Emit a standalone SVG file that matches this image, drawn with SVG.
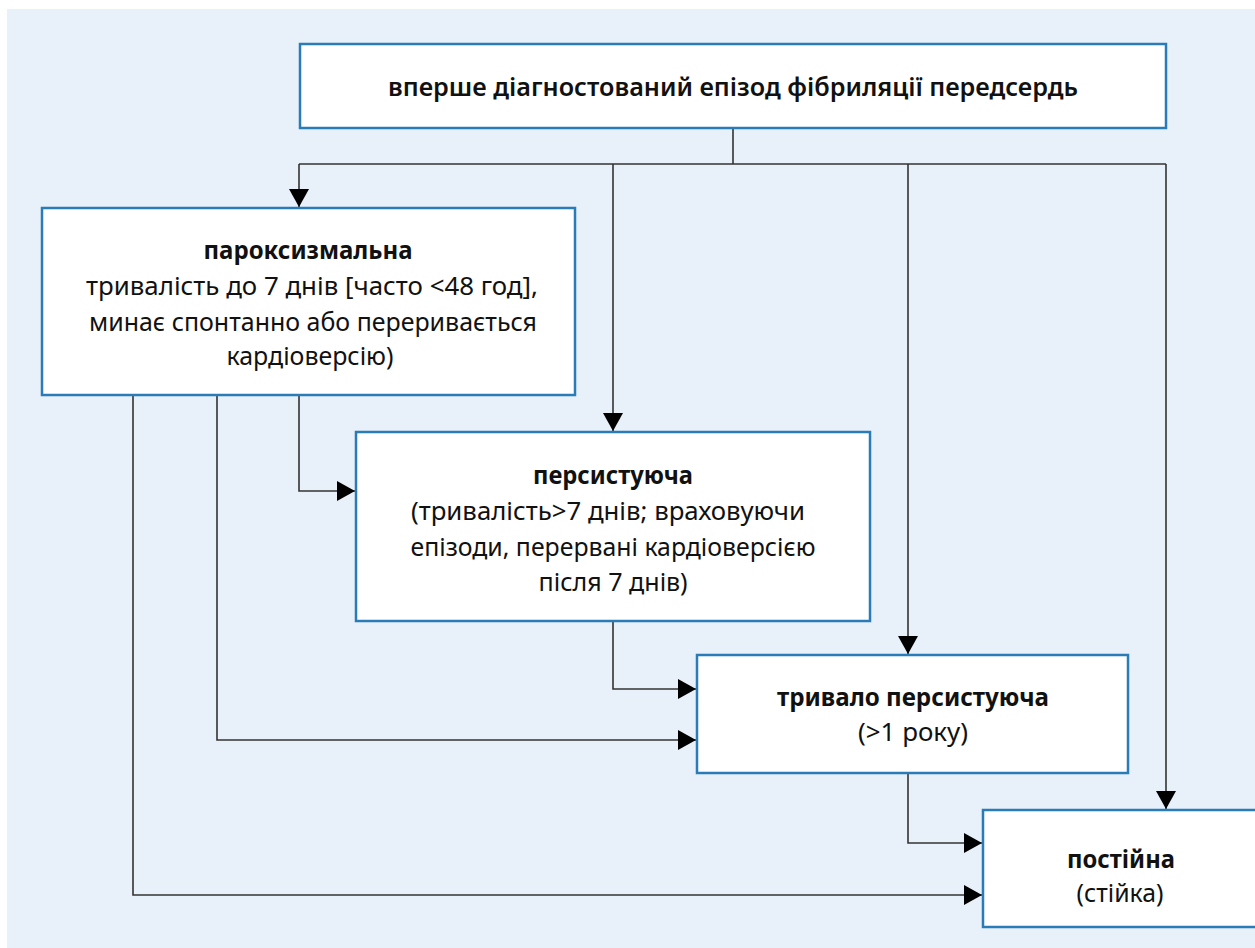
<svg xmlns="http://www.w3.org/2000/svg" width="1255" height="948" viewBox="0 0 1255 948">
<defs>
<marker id="arr" markerUnits="userSpaceOnUse" markerWidth="18" markerHeight="20" refX="18" refY="10" orient="auto">
<path d="M0,0 L18,10 L0,20 z" fill="#000"/>
</marker>
<style>
.box{fill:#fff;stroke:#2a7cb9;stroke-width:2.5}
.con{fill:none;stroke:#333;stroke-width:1.6}
.t{font-family:"Noto Sans","Open Sans","DejaVu Sans",sans-serif;font-size:25.5px;fill:#111;text-anchor:middle}
.b{font-weight:700}
.s{font-weight:600}
</style>
</defs>
<rect x="0" y="0" width="1255" height="948" fill="#fff"/>
<rect x="7" y="9" width="1248" height="939" fill="#e8f0f9"/>
<g id="connectors">
<path class="con" d="M733,128 V164 M299,164 H1166"/>
<path class="con" d="M299,164 V207" marker-end="url(#arr)"/>
<path class="con" d="M613,164 V431" marker-end="url(#arr)"/>
<path class="con" d="M908,164 V654" marker-end="url(#arr)"/>
<path class="con" d="M1166,164 V809" marker-end="url(#arr)"/>
<path class="con" d="M299,395 V491 H355" marker-end="url(#arr)"/>
<path class="con" d="M217,395 V740 H696" marker-end="url(#arr)"/>
<path class="con" d="M133,395 V895 H982" marker-end="url(#arr)"/>
<path class="con" d="M613,621 V689 H696" marker-end="url(#arr)"/>
<path class="con" d="M908,773 V843 H982" marker-end="url(#arr)"/>
</g>
<g id="first">
<rect class="box" x="300" y="44" width="866" height="84"/>
<text class="t s" x="733" y="96" textLength="690" lengthAdjust="spacingAndGlyphs">вперше діагностований епізод фібриляції передсердь</text>
</g>
<g id="paroxysmal">
<rect class="box" x="42" y="208" width="533" height="187"/>
<text class="t b" x="308" y="259" textLength="209" lengthAdjust="spacingAndGlyphs">пароксизмальна</text>
<text class="t" x="312" y="295" textLength="452" lengthAdjust="spacingAndGlyphs">тривалість до 7 днів [часто &lt;48 год],</text>
<text class="t" x="313" y="331" textLength="448" lengthAdjust="spacingAndGlyphs">минає спонтанно або переривається</text>
<text class="t" x="310" y="365" textLength="167" lengthAdjust="spacingAndGlyphs">кардіоверсію)</text>
</g>
<g id="persistent">
<rect class="box" x="356" y="432" width="514" height="189"/>
<text class="t b" x="613" y="484" textLength="160" lengthAdjust="spacingAndGlyphs">персистуюча</text>
<text class="t" x="608" y="520" textLength="394" lengthAdjust="spacingAndGlyphs">(тривалість&gt;7 днів; враховуючи</text>
<text class="t" x="613" y="556" textLength="405" lengthAdjust="spacingAndGlyphs">епізоди, перервані кардіоверсією</text>
<text class="t" x="613" y="591" textLength="149" lengthAdjust="spacingAndGlyphs">після 7 днів)</text>
</g>
<g id="longpersistent">
<rect class="box" x="697" y="655" width="431" height="118"/>
<text class="t b" x="913" y="706" textLength="272" lengthAdjust="spacingAndGlyphs">тривало персистуюча</text>
<text class="t" x="913" y="741" textLength="110" lengthAdjust="spacingAndGlyphs">(&gt;1 року)</text>
</g>
<g id="permanent">
<rect class="box" x="983" y="810" width="300" height="117"/>
<text class="t b" x="1121" y="868" textLength="108" lengthAdjust="spacingAndGlyphs">постійна</text>
<text class="t" x="1120" y="902" textLength="87" lengthAdjust="spacingAndGlyphs">(стійка)</text>
</g>
</svg>
